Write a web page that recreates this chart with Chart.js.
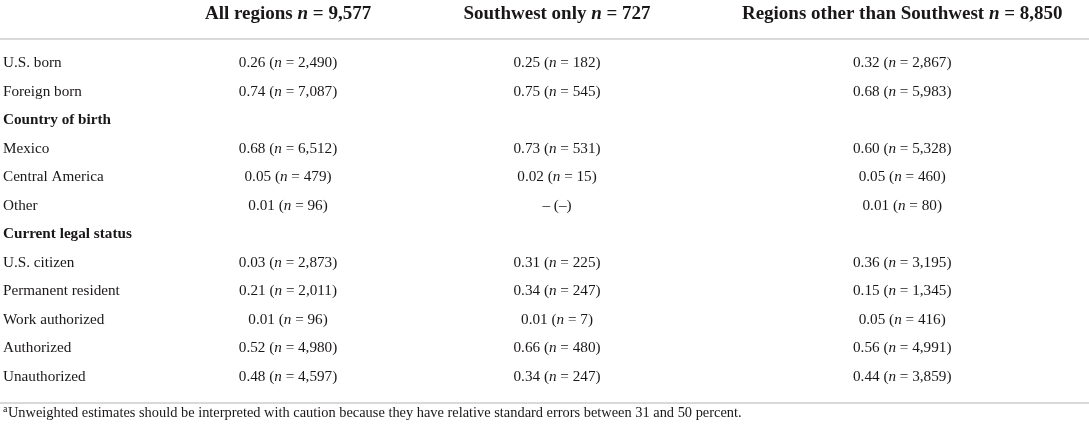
<!DOCTYPE html>
<html>
<head>
<meta charset="utf-8">
<script src="https://cdn.jsdelivr.net/npm/chart.js@4.4.1/dist/chart.umd.min.js"></script>
<style>
  html, body { margin: 0; padding: 0; background: #fff; }
  #wrap { width: 1089px; height: 430px; position: relative; }
</style>
</head>
<body>
<div id="wrap"><canvas id="tbl"></canvas></div>
<script>
// table content
const rowLabels = [
  'U.S. born', 'Foreign born', 'Country of birth', 'Mexico', 'Central America', 'Other',
  'Current legal status', 'U.S. citizen', 'Permanent resident', 'Work authorized',
  'Authorized', 'Unauthorized'
];
const sectionRows = ['Country of birth', 'Current legal status'];

const groupNames = ['All regions', 'Southwest only', 'Regions other than Southwest'];
const groupTotals = ['9,577', '727', '8,850'];

// null = no value in that cell
const allShare = ['0.26', '0.74', null, '0.68', '0.05', '0.01', null, '0.03', '0.21', '0.01', '0.52', '0.48'];
const allN     = ['2,490', '7,087', null, '6,512', '479', '96', null, '2,873', '2,011', '96', '4,980', '4,597'];
const swShare  = ['0.25', '0.75', null, '0.73', '0.02', '–', null, '0.31', '0.34', '0.01', '0.66', '0.34'];
const swN      = ['182', '545', null, '531', '15', '–', null, '225', '247', '7', '480', '247'];
const othShare = ['0.32', '0.68', null, '0.60', '0.05', '0.01', null, '0.36', '0.15', '0.05', '0.56', '0.44'];
const othN     = ['2,867', '5,983', null, '5,328', '460', '80', null, '3,195', '1,345', '416', '4,991', '3,859'];

const footnote = 'Unweighted estimates should be interpreted with caution because they have relative standard errors between 31 and 50 percent.';

const shares = [allShare, swShare, othShare];
const counts = [allN, swN, othN];

// column centres as a fraction of the width
const colCenters = [0.2645, 0.5115, 0.8285];
const FONT = '"Liberation Serif", "Times New Roman", serif';
const INK = '#1a1718';
const RULE = '#cccccc';

// draws a list of [text, font] pieces centred or left aligned at x
function drawRuns(ctx, runs, x, y, align) {
  let w = 0;
  runs.forEach(r => { ctx.font = r[1]; w += ctx.measureText(r[0]).width; });
  let cx = align === 'center' ? x - w / 2 : x;
  ctx.textAlign = 'left';
  runs.forEach(r => {
    ctx.font = r[1];
    ctx.fillText(r[0], cx, y);
    cx += ctx.measureText(r[0]).width;
  });
}

const tablePlugin = {
  id: 'tablePlugin',
  afterDraw(chart) {
    const ctx = chart.ctx;
    const xs = chart.scales.x, ys = chart.scales.y;
    const W = chart.width;
    const reg = '15.2px ' + FONT, ital = 'italic 15.2px ' + FONT;
    const bold = 'bold 15.2px ' + FONT;
    ctx.save();
    ctx.fillStyle = INK;
    ctx.textBaseline = 'middle';

    // column headers
    groupNames.forEach((g, i) => {
      drawRuns(ctx, [
        [g + ' ', 'bold 19px ' + FONT],
        ['n', 'bold italic 19px ' + FONT],
        [' = ' + groupTotals[i], 'bold 19px ' + FONT]
      ], xs.getPixelForValue(colCenters[i]), 14.5, 'center');
    });

    // rules
    ctx.strokeStyle = RULE;
    ctx.lineWidth = 1.5;
    [39, 403].forEach(yy => {
      ctx.beginPath(); ctx.moveTo(0, yy); ctx.lineTo(W, yy); ctx.stroke();
    });

    // rows
    rowLabels.forEach((lab, r) => {
      const y = ys.getPixelForValue(r);
      ctx.font = sectionRows.includes(lab) ? bold : reg;
      ctx.textAlign = 'left';
      ctx.fillText(lab, 3, y);
      shares.forEach((col, c) => {
        const v = col[r];
        if (v == null) return;
        const x = xs.getPixelForValue(colCenters[c]);
        if (v === '–') {
          drawRuns(ctx, [['– (–)', reg]], x, y, 'center');
        } else {
          drawRuns(ctx, [[v + ' (', reg], ['n', ital], [' = ' + counts[c][r] + ')', reg]], x, y, 'center');
        }
      });
    });

    // footnote
    ctx.textBaseline = 'alphabetic';
    ctx.font = '10px ' + FONT;
    ctx.textAlign = 'left';
    ctx.fillText('a', 3, 412);
    const aw = ctx.measureText('a').width;
    ctx.font = '14.4px ' + FONT;
    ctx.fillText(footnote, 3 + aw + 0.5, 416.5);
    ctx.restore();
  }
};

new Chart(document.getElementById('tbl'), {
  type: 'scatter',
  data: { datasets: [] },
  options: {
    responsive: true,
    maintainAspectRatio: false,
    animation: false,
    events: [],
    layout: { padding: { top: 49, bottom: 39, left: 0, right: 0 } },
    plugins: { legend: { display: false }, tooltip: { enabled: false } },
    scales: {
      x: { type: 'linear', min: 0, max: 1, display: false },
      y: { type: 'category', labels: rowLabels.map((l, i) => i), offset: true, display: false }
    }
  },
  plugins: [tablePlugin]
});
</script>
</body>
</html>
